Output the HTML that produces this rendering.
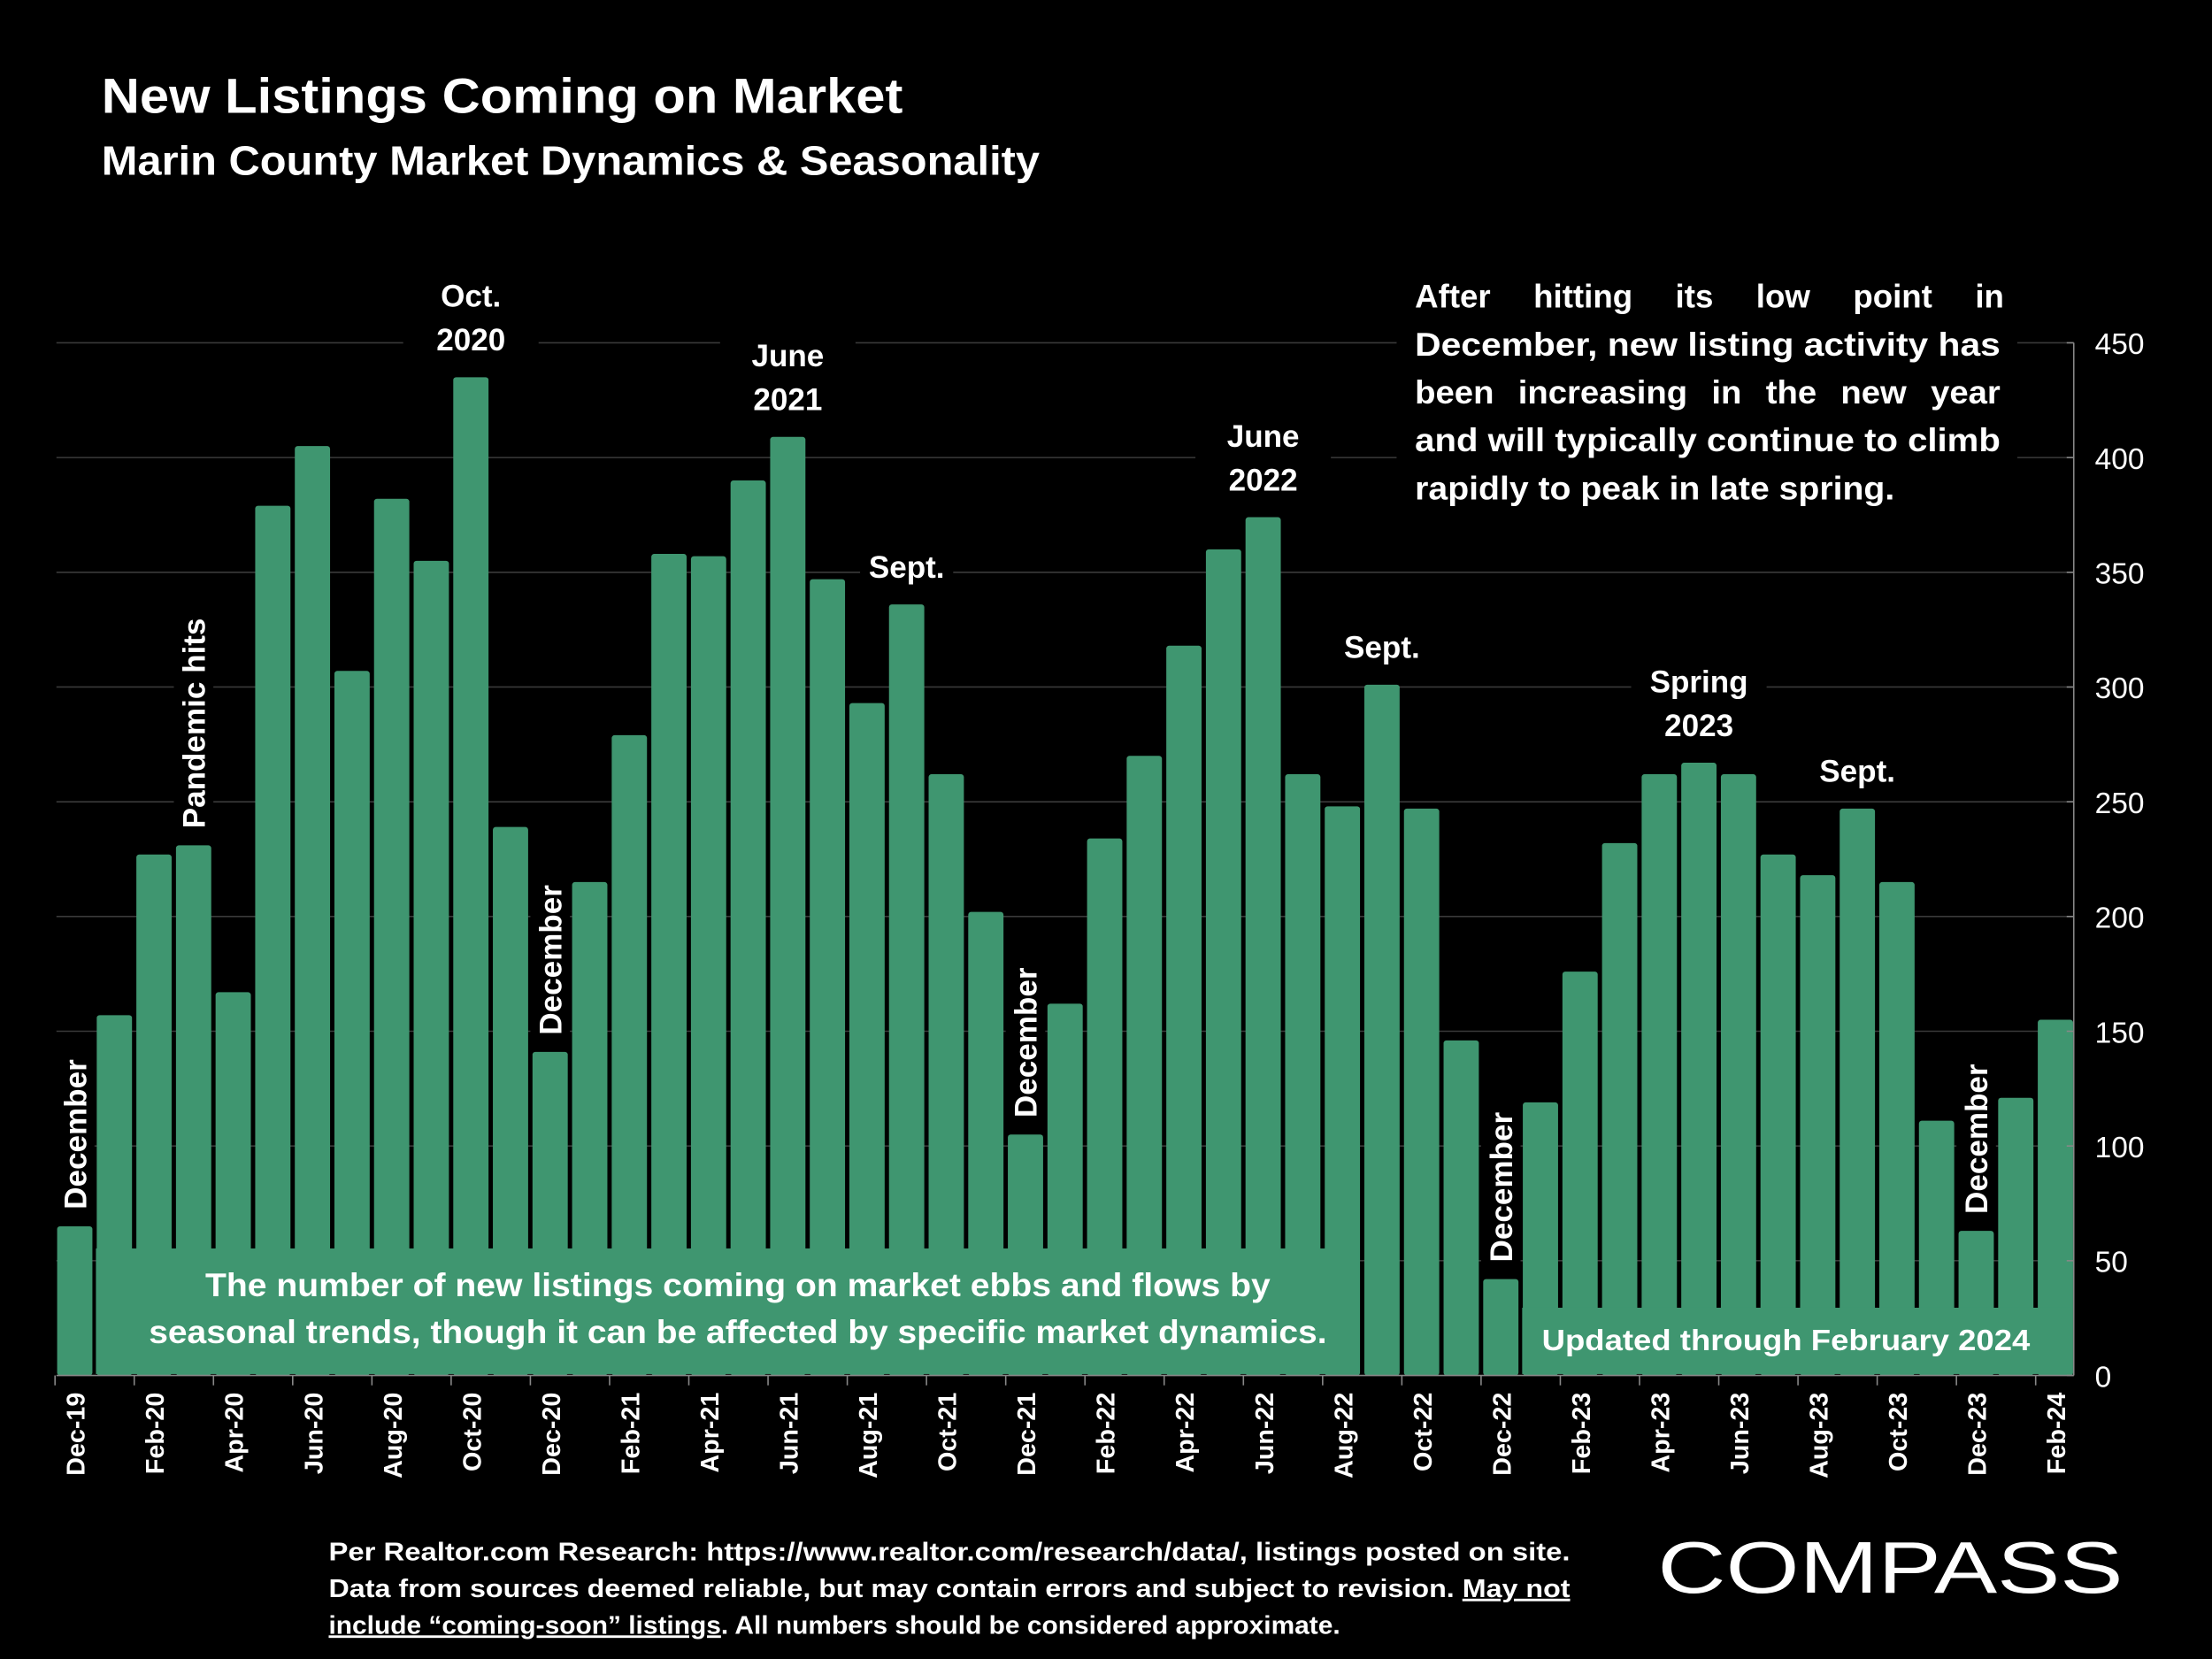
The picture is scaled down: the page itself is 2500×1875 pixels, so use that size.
<!DOCTYPE html>
<html><head><meta charset="utf-8"><style>
html,body{margin:0;padding:0;background:#000;}
svg{display:block;}
text{font-family:"Liberation Sans",sans-serif;fill:#fff;}
</style></head><body>
<svg id="chart" width="2500" height="1875" viewBox="0 0 1568 1176" xmlns="http://www.w3.org/2000/svg">
<rect x="0" y="0" width="1568" height="1176" fill="#000"/>
<text x="72" y="80" font-size="35" font-weight="bold" textLength="568" lengthAdjust="spacingAndGlyphs">New Listings Coming on Market</text>
<text x="72" y="124" font-size="29" font-weight="bold" textLength="665" lengthAdjust="spacingAndGlyphs">Marin County Market Dynamics &amp; Seasonality</text>
<g id="grid"></g>
<g id="bars"></g>
<g id="axes"></g>
<g id="ann"></g>
<rect x="68" y="885" width="895" height="89" fill="#3f9670"/>
<text x="523" y="919" font-size="23" font-weight="bold" text-anchor="middle" textLength="755" lengthAdjust="spacingAndGlyphs">The number of new listings coming on market ebbs and flows by</text>
<text x="523" y="952" font-size="23" font-weight="bold" text-anchor="middle" textLength="835" lengthAdjust="spacingAndGlyphs">seasonal trends, though it can be affected by specific market dynamics.</text>
<rect x="1079" y="927" width="389" height="47" fill="#3f9670"/>
<text x="1266" y="957" font-size="21" font-weight="bold" text-anchor="middle" textLength="346" lengthAdjust="spacingAndGlyphs">Updated through February 2024</text>
<rect x="990" y="190" width="440" height="175" fill="#000"/>
<g font-size="23" font-weight="bold">
<text x="1003" y="218" word-spacing="24">After hitting its low point in</text>
<text x="1003" y="252" textLength="415" lengthAdjust="spacingAndGlyphs">December, new listing activity has</text>
<text x="1003" y="286" textLength="415" lengthAdjust="spacingAndGlyphs" word-spacing="10">been increasing in the new year</text>
<text x="1003" y="320" textLength="415" lengthAdjust="spacingAndGlyphs">and will typically continue to climb</text>
<text x="1003" y="354" textLength="340" lengthAdjust="spacingAndGlyphs">rapidly to peak in late spring.</text>
</g>
<g font-size="18" font-weight="bold">
<text x="233" y="1106" textLength="880" lengthAdjust="spacingAndGlyphs">Per Realtor.com Research:  https://www.realtor.com/research/data/, listings posted on site.</text>
<text x="233" y="1132" textLength="880" lengthAdjust="spacingAndGlyphs">Data from sources deemed reliable, but may contain errors and subject to revision. <tspan text-decoration="underline">May not</tspan></text>
<text x="233" y="1158" textLength="717" lengthAdjust="spacingAndGlyphs"><tspan text-decoration="underline">include “coming-soon” listings</tspan>. All numbers should be considered approximate.</text>
</g>
<text x="1175" y="1129" font-size="52" textLength="330" lengthAdjust="spacingAndGlyphs">COMPASS</text>
<script>
const months=["Dec-19","Jan-20","Feb-20","Mar-20","Apr-20","May-20","Jun-20","Jul-20","Aug-20","Sep-20","Oct-20","Nov-20","Dec-20","Jan-21","Feb-21","Mar-21","Apr-21","May-21","Jun-21","Jul-21","Aug-21","Sep-21","Oct-21","Nov-21","Dec-21","Jan-22","Feb-22","Mar-22","Apr-22","May-22","Jun-22","Jul-22","Aug-22","Sep-22","Oct-22","Nov-22","Dec-22","Jan-23","Feb-23","Mar-23","Apr-23","May-23","Jun-23","Jul-23","Aug-23","Sep-23","Oct-23","Nov-23","Dec-23","Jan-24","Feb-24"];
const listings=[65,157,227,231,167,379,405,307,382,355,435,239,141,215,279,358,357,390,409,347,293,336,262,202,105,162,234,270,318,360,374,262,248,301,247,146,42,119,176,232,262,267,262,227,218,247,215,111,63,121,155];
const yTicks=[0,50,100,150,200,250,300,350,400,450];
const NS="http://www.w3.org/2000/svg";
const x0=53,step=28.08,bw=25,yBase=975,yTop=243,yMax=450;
function xc(i){return x0+i*step;}
function y(v){return yBase-(v/yMax)*(yBase-yTop);}
function mk(tag,attrs,parent){const e=document.createElementNS(NS,tag);for(const k in attrs)e.setAttribute(k,attrs[k]);parent.appendChild(e);return e;}
const grid=document.getElementById('grid'),bars=document.getElementById('bars'),axes=document.getElementById('axes'),ann=document.getElementById('ann');
yTicks.forEach(t=>{
  if(t>0){const l=mk('line',{x1:40,x2:1470,y1:y(t),y2:y(t),stroke:'#3a3a3a','stroke-width':1},grid);
  
  }
  const tx=mk('text',{x:1485,y:y(t)+8,'font-size':21},axes);tx.textContent=t;
  
  
  const tk=mk('line',{x1:1465,x2:1470,y1:y(t),y2:y(t),stroke:'#888'},axes);
  
  
});
const ra=mk('line',{x1:1470,x2:1470,y1:y(450),y2:yBase,stroke:'#888'},axes);


listings.forEach((v,i)=>{
  const r=mk('rect',{x:xc(i)-bw/2,y:y(v),width:bw,height:yBase-y(v),fill:'#3f9670',rx:2},bars);
  
  
});
const xa=mk('line',{x1:40,x2:1470,y1:yBase,y2:yBase,stroke:'#888'},axes);


months.forEach((m,i)=>{
  if(i%2)return;
  const tk=mk('line',{x1:xc(i)-14,x2:xc(i)-14,y1:yBase,y2:yBase+7,stroke:'#888'},axes);
  
  
  const t=mk('text',{x:0,y:0,'font-size':18,'font-weight':'bold','text-anchor':'end',transform:`translate(${xc(i)+7},${yBase+12}) rotate(-90)`},axes);
  t.textContent=m;
  
  
});
const annotations=[[0,["December"],true],[3,["Pandemic hits"],true],[10,["Oct.","2020"],false],[12,["December"],true],[18,["June","2021"],false],[21,["Sept."],false],[24,["December"],true],[30,["June","2022"],false],[33,["Sept."],false],[36,["December"],true],[41,["Spring","2023"],false],[45,["Sept."],false],[48,["December"],true]];
annotations.forEach(([i,lines,rot])=>{
  const v=listings[i];
  if(rot){
    const len=lines[0].length*12;
    const b=mk('rect',{x:xc(i)-14,y:y(v)-len-20,width:28,height:len+12,fill:'#000'},ann);
    
    
    const t=mk('text',{x:0,y:0,'font-size':22,'font-weight':'bold',transform:`translate(${xc(i)+8},${y(v)-12}) rotate(-90)`},ann);
    t.textContent=lines[0];
    
    
  } else {
    const h=lines.length*31;
    const w=lines.length>1?96:66;
    const b=mk('rect',{x:xc(i)-w/2,y:y(v)-h-12,width:w,height:h+4,fill:'#000'},ann);
    
    
    lines.forEach((s,k)=>{
      const t=mk('text',{x:xc(i),y:y(v)-h-12+24+k*31,'font-size':22,'font-weight':'bold','text-anchor':'middle'},ann);
      t.textContent=s;
      
      
    });
  }
});
</script>
</svg>
</body></html>
